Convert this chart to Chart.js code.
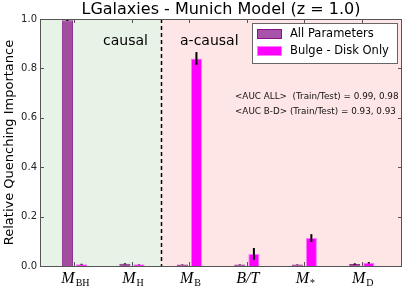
<!DOCTYPE html>
<html>
<head>
<meta charset="utf-8">
<script src="https://cdn.jsdelivr.net/npm/chart.js@4.4.0/dist/chart.umd.min.js"></script>
<style>
  html, body { margin: 0; padding: 0; background: #fff; }
  #wrap { width: 407px; height: 290px; }
</style>
</head>
<body>
<div id="wrap"><canvas id="c" width="407" height="290"></canvas></div>
<script>
// feature names: "M_XX" means italic M with roman subscript XX
const categories = ['M_BH', 'M_H', 'M_B', 'B/T', 'M_*', 'M_D'];
const allParams = [0.995, 0.009, 0.006, 0.006, 0.006, 0.008];
const allParamsErr = [0.003, 0.002, 0.001, 0.001, 0.001, 0.003];
const bulgeDisk = [0.007, 0.007, 0.84, 0.049, 0.113, 0.013];
const bulgeDiskErr = [0.002, 0.001, 0.026, 0.024, 0.016, 0.003];
const yTicks = [0, 0.2, 0.4, 0.6, 0.8, 1.0];
const seriesNames = ['All Parameters', 'Bulge - Disk Only'];
const aucLines = [
    '<AUC ALL>  (Train/Test) = 0.99, 0.98',
    '<AUC B-D> (Train/Test) = 0.93, 0.93'
];
const causalSplit = 1.5;

const toPoints = (vals) => vals.map((v, i) => ({ x: i, y: v }));

const decorPlugin = {
    id: 'decor',
    beforeDatasetsDraw(chart) {
        const { ctx, chartArea: a, scales: { x } } = chart;
        const xs = x.getPixelForValue(causalSplit);
        ctx.save();
        ctx.fillStyle = 'rgb(230,243,230)';
        ctx.fillRect(a.left, a.top, xs - a.left, a.bottom - a.top);
        ctx.fillStyle = 'rgb(255,230,230)';
        ctx.fillRect(xs, a.top, a.right - xs, a.bottom - a.top);
        ctx.restore();
    },
    afterDatasetsDraw(chart) {
        const { ctx, chartArea: a, scales: { x, y } } = chart;
        ctx.save();

        // error bars
        const errs = [allParamsErr, bulgeDiskErr];
        chart.data.datasets.forEach((ds, di) => {
            const meta = chart.getDatasetMeta(di);
            meta.data.forEach((bar, i) => {
                const v = ds.data[i].y, e = errs[di][i];
                ctx.strokeStyle = '#000';
                ctx.lineWidth = 2;
                ctx.beginPath();
                ctx.moveTo(bar.x, y.getPixelForValue(v - e));
                ctx.lineTo(bar.x, y.getPixelForValue(v + e));
                ctx.stroke();
            });
        });

        // causal / a-causal divider
        const xs = Math.round(x.getPixelForValue(causalSplit)) + 0.5;
        ctx.strokeStyle = '#000';
        ctx.lineWidth = 1.5;
        ctx.setLineDash([4, 3]);
        ctx.beginPath();
        ctx.moveTo(xs, a.top);
        ctx.lineTo(xs, a.bottom);
        ctx.stroke();
        ctx.setLineDash([]);

        // frame and inward ticks
        ctx.strokeStyle = '#555';
        ctx.lineWidth = 1;
        ctx.strokeRect(a.left + 0.5, a.top + 0.5, a.right - a.left - 1, a.bottom - a.top);
        ctx.beginPath();
        yTicks.forEach(t => {
            const py = Math.round(y.getPixelForValue(t)) + 0.5;
            ctx.moveTo(a.left, py); ctx.lineTo(a.left + 4, py);
            ctx.moveTo(a.right, py); ctx.lineTo(a.right - 4, py);
        });
        categories.forEach((c, i) => {
            const px = Math.round(x.getPixelForValue(i)) + 0.5;
            ctx.moveTo(px, a.bottom); ctx.lineTo(px, a.bottom - 4);
            ctx.moveTo(px, a.top); ctx.lineTo(px, a.top + 4);
        });
        ctx.stroke();

        // x tick labels with subscripts
        ctx.fillStyle = '#000';
        ctx.textBaseline = 'alphabetic';
        ctx.textAlign = 'left';
        const mainFont = 'italic 16px "Liberation Serif"';
        const subFont = '10px "Liberation Serif"';
        categories.forEach((c, i) => {
            let main = c, sub = '';
            if (c.startsWith('M_')) { main = 'M'; sub = c.slice(2); }
            ctx.font = mainFont;
            const wm = ctx.measureText(main).width;
            ctx.font = subFont;
            const ws = sub ? ctx.measureText(sub).width + 1 : 0;
            const x0 = x.getPixelForValue(i) + 1 - (wm + ws) / 2;
            ctx.font = mainFont;
            ctx.fillText(main, x0, 283);
            if (sub) {
                ctx.font = subFont;
                ctx.fillText(sub, x0 + wm + 1, 286);
            }
        });

        // region labels
        ctx.font = '14px "DejaVu Sans"';
        ctx.textBaseline = 'middle';
        ctx.fillText('causal', 103, 41);
        ctx.fillText('a-causal', 180, 41);

        // AUC notes
        ctx.font = '8.8px "DejaVu Sans"';
        ctx.fillStyle = '#111';
        ctx.fillText(aucLines[0], 235, 97);
        ctx.fillText(aucLines[1], 235, 112);

        // legend
        ctx.fillStyle = '#fff';
        ctx.fillRect(252, 23, 145, 40);
        ctx.strokeStyle = '#666';
        ctx.strokeRect(252.5, 23.5, 145, 40);
        chart.data.datasets.forEach((ds, di) => {
            const ly = 29 + di * 17;
            ctx.fillStyle = ds.backgroundColor;
            ctx.fillRect(257, ly, 25, 10);
            ctx.strokeStyle = ds.borderColor;
            ctx.strokeRect(257.5, ly + 0.5, 24, 9);
            ctx.fillStyle = '#000';
            ctx.font = '11.5px "DejaVu Sans"';
            ctx.fillText(ds.label, 290, ly + 5.5);
        });

        // title
        ctx.font = '16px "DejaVu Sans"';
        ctx.textAlign = 'center';
        ctx.fillText('LGalaxies - Munich Model (z = 1.0)', (a.left + a.right) / 2, 10);

        ctx.restore();
    }
};

new Chart(document.getElementById('c'), {
    type: 'bar',
    data: {
        datasets: [{
            label: seriesNames[0],
            data: toPoints(allParams),
            backgroundColor: 'rgba(128,0,128,0.68)',
            borderColor: 'rgba(128,0,128,0.8)',
            borderWidth: 1,
            categoryPercentage: 0.49,
            barPercentage: 0.79
        }, {
            label: seriesNames[1],
            data: toPoints(bulgeDisk),
            backgroundColor: '#ff00ff',
            borderColor: 'rgba(255,120,255,1)',
            borderWidth: 1,
            categoryPercentage: 0.49,
            barPercentage: 0.79
        }]
    },
    options: {
        responsive: false,
        animation: false,
        devicePixelRatio: 1,
        layout: {
            padding: { top: 19, right: 5, bottom: 24, left: 0 }
        },
        plugins: {
            legend: { display: false },
            tooltip: { enabled: false }
        },
        scales: {
            x: {
                type: 'linear',
                display: false,
                min: -0.6,
                max: 5.7,
                offset: false,
                afterBuildTicks: (axis) => {
                    axis.ticks = categories.map((c, i) => ({ value: i }));
                }
            },
            y: {
                min: 0,
                max: 1,
                grid: { display: false, drawTicks: false },
                border: { display: false },
                afterBuildTicks: (axis) => {
                    axis.ticks = yTicks.map(v => ({ value: v }));
                },
                ticks: {
                    padding: 3,
                    color: '#222',
                    font: { family: 'DejaVu Sans', size: 10 },
                    callback: (v) => v.toFixed(1)
                },
                title: {
                    display: true,
                    text: 'Relative Quenching Importance',
                    color: '#000',
                    font: { family: 'DejaVu Sans', size: 13 },
                    padding: { top: 2, bottom: 0 }
                },
                afterFit: (scale) => { scale.width = 40; }
            }
        }
    },
    plugins: [decorPlugin]
});
</script>
</body>
</html>
